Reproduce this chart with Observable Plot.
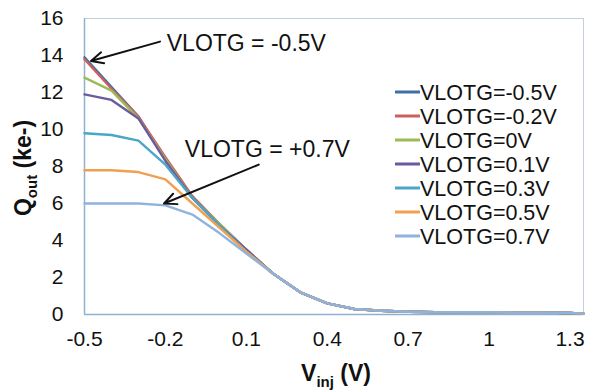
<!DOCTYPE html>
<html>
<head>
<meta charset="utf-8">
<script src="https://cdn.jsdelivr.net/npm/d3@7"></script>
<script src="https://cdn.jsdelivr.net/npm/@observablehq/plot@0.6"></script>
<style>
  html, body { margin: 0; padding: 0; background: #fff; }
  svg { font-family: Arial, "Liberation Sans", sans-serif; }
</style>
</head>
<body>
<div id="chart"></div>
<script>
const vinj = [-0.5, -0.4, -0.3, -0.2, -0.1, 0, 0.1, 0.2, 0.3, 0.4, 0.5, 0.6, 0.7, 0.8, 0.9, 1.0, 1.1, 1.2, 1.3, 1.35];

const seriesNames = ["VLOTG=-0.5V", "VLOTG=-0.2V", "VLOTG=0V", "VLOTG=0.1V", "VLOTG=0.3V", "VLOTG=0.5V", "VLOTG=0.7V"];
const seriesColors = ["#3d6fa6", "#cf5f5a", "#9bbb59", "#6b5b9e", "#4aa6c8", "#f0a050", "#8fb3dc"];

const qM05 = [13.9, 12.3, 10.7, 8.4, 6.3, 4.9, 3.5, 2.2, 1.2, 0.6, 0.3, 0.2, 0.15, 0.13, 0.12, 0.12, 0.1, 0.1, 0.08, 0.05];
const qM02 = [13.8, 12.2, 10.7, 8.5, 6.4, 4.9, 3.5, 2.2, 1.2, 0.6, 0.3, 0.2, 0.15, 0.13, 0.12, 0.12, 0.1, 0.1, 0.08, 0.05];
const q00  = [12.8, 12.1, 10.6, 8.4, 6.3, 4.9, 3.5, 2.2, 1.2, 0.6, 0.3, 0.2, 0.15, 0.13, 0.12, 0.12, 0.1, 0.1, 0.08, 0.05];
const q01  = [11.9, 11.6, 10.6, 8.3, 6.3, 4.8, 3.5, 2.2, 1.2, 0.6, 0.3, 0.2, 0.15, 0.13, 0.12, 0.12, 0.1, 0.1, 0.08, 0.05];
const q03  = [9.8, 9.7, 9.4, 8.1, 6.3, 4.8, 3.4, 2.2, 1.2, 0.6, 0.3, 0.2, 0.15, 0.13, 0.12, 0.12, 0.1, 0.1, 0.08, 0.05];
const q05  = [7.8, 7.8, 7.7, 7.3, 6.0, 4.7, 3.4, 2.2, 1.2, 0.6, 0.3, 0.2, 0.15, 0.13, 0.12, 0.12, 0.1, 0.1, 0.08, 0.05];
const q07  = [6.0, 6.0, 6.0, 5.9, 5.4, 4.4, 3.3, 2.2, 1.2, 0.6, 0.3, 0.2, 0.15, 0.13, 0.12, 0.12, 0.1, 0.1, 0.08, 0.05];

const xTicks = [-0.5, -0.2, 0.1, 0.4, 0.7, 1, 1.3];
const yTicks = [0, 2, 4, 6, 8, 10, 12, 14, 16];
const xTickLabels = ["-0.5", "-0.2", "0.1", "0.4", "0.7", "1", "1.3"];

const allSeries = [qM05, qM02, q00, q01, q03, q05, q07];
const data = [];
allSeries.forEach((arr, si) => {
  arr.forEach((v, i) => data.push({ series: seriesNames[si], x: vinj[i], q: v }));
});

const annotations = [
  { text: "VLOTG = -0.5V", x: -0.195, y: 14.25, ax1: -0.22, ay1: 14.75, ax2: -0.476, ay2: 13.7 },
  { text: "VLOTG = +0.7V", x: -0.128, y: 8.52, ax1: 0.146, ay1: 8.1, ax2: -0.205, ay2: 6.0 }
];

const W = 589, H = 392;
const mL = 84, mR = 6, mT = 18, mB = 78;

const plot = Plot.plot({
  width: W,
  height: H,
  marginLeft: mL,
  marginRight: mR,
  marginTop: mT,
  marginBottom: mB,
  style: { fontFamily: "Arial, 'Liberation Sans', sans-serif", background: "#fff", overflow: "visible" },
  x: { domain: [-0.5, 1.35], ticks: xTicks, label: null },
  y: { domain: [0, 16], ticks: yTicks, label: null },
  color: { domain: seriesNames, range: seriesColors },
  marks: [
    Plot.frame({ stroke: "#c3cfdb", strokeWidth: 1 }),
    Plot.ruleX([-0.5], { stroke: "#8fb0d0", strokeWidth: 1.5 }),
    Plot.ruleY([0], { stroke: "#8fb0d0", strokeWidth: 1.5 }),
    Plot.axisX({ ticks: xTicks, tickSize: 0, tickPadding: 17, fontSize: 21, fill: "#111", tickFormat: (d) => xTickLabels[xTicks.indexOf(d)] }),
    Plot.axisY({ ticks: yTicks, tickSize: 0, tickPadding: 21, fontSize: 21, fill: "#111" }),
    Plot.line(data, { x: "x", y: "q", z: "series", stroke: "series", strokeWidth: 2.4 }),
    Plot.arrow(annotations, { x1: "ax1", y1: "ay1", x2: "ax2", y2: "ay2", stroke: "#111", strokeWidth: 2, headLength: 10, headAngle: 50 }),
    Plot.text(annotations, { x: "x", y: "y", text: "text", textAnchor: "start", lineAnchor: "bottom", fontSize: 23, fill: "#111" })
  ]
});

document.getElementById("chart").appendChild(plot);

const svg = d3.select(plot);

// Legend
const lg = svg.append("g").attr("font-size", 21.5).attr("fill", "#111").attr("text-anchor", "start");
seriesNames.forEach((name, i) => {
  const cy = 92 + i * 24;
  lg.append("line").attr("x1", 395).attr("x2", 420).attr("y1", cy).attr("y2", cy)
    .attr("stroke", seriesColors[i]).attr("stroke-width", 3);
  lg.append("text").attr("x", 420).attr("y", cy).attr("dy", "0.36em").attr("text-anchor", "start").text(name);
});

// Y axis label
const yl = svg.append("text")
  .attr("transform", "translate(31,168) rotate(-90)")
  .attr("text-anchor", "middle").attr("font-size", 23).attr("font-weight", "bold").attr("fill", "#111");
yl.append("tspan").text("Q");
yl.append("tspan").attr("font-size", 15).attr("dy", 6).text("out");
yl.append("tspan").attr("dy", -6).text(" (ke-)");

// X axis label
const xl = svg.append("text")
  .attr("x", 336).attr("y", 381)
  .attr("text-anchor", "middle").attr("font-size", 23).attr("font-weight", "bold").attr("fill", "#111");
xl.append("tspan").text("V");
xl.append("tspan").attr("font-size", 15).attr("dy", 6).text("inj");
xl.append("tspan").attr("dy", -6).text(" (V)");
</script>
</body>
</html>
